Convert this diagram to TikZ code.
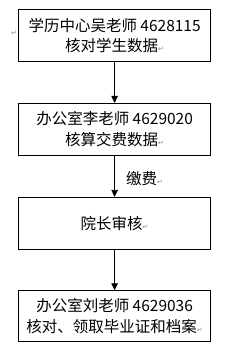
\documentclass[tikz,border=0pt]{standalone}
\usepackage{fontspec}
\newfontfamily\cjk{Noto Sans CJK SC}
\newfontfamily\symfont{DejaVu Sans}
\usetikzlibrary{arrows.meta}
\newcommand{\pmk}{{\symfont\fontsize{7}{7}\selectfont\textcolor{black!45}{↵}}}
\begin{document}
\begin{tikzpicture}[x=1pt,y=-1pt,
  box/.style={draw, line width=0.8pt, minimum width=192pt, inner sep=0pt, align=center,
    font=\cjk\fontsize{15.5}{20.5}\selectfont},
  flow/.style={line width=0.8pt, -{Triangle[length=7pt,width=6.5pt]}},
  lbl/.style={font=\cjk\fontsize{15.5}{18}\selectfont, inner sep=0pt}]
\fill[white] (0,0) rectangle (246,353);
\useasboundingbox (0,0) rectangle (246,353);
\node[box, minimum height=52.4pt] (b1) at (114.6,35.5) {学历中心吴老师 4628115\\核对学生数据\pmk};
\node[box, minimum height=51.7pt] (b2) at (114.6,129.2) {办公室李老师 4629020\\核算交费数据\pmk};
\node[box, minimum height=52pt] (b3) at (114.6,223.3) {院长审核\pmk};
\node[box, minimum height=51pt] (b4) at (114.6,316.2) {办公室刘老师 4629036\\核对、领取毕业证和档案\pmk};
\node[inner sep=0pt] (m0) at (14,33) {\pmk};
\draw[flow] (b1) -- (b2);
\draw[flow] (b2) -- node[lbl, right=11pt, pos=0.55] (l1) {缴费\pmk} (b3);
\draw[flow] (b3) -- (b4);
\end{tikzpicture}
\end{document}
